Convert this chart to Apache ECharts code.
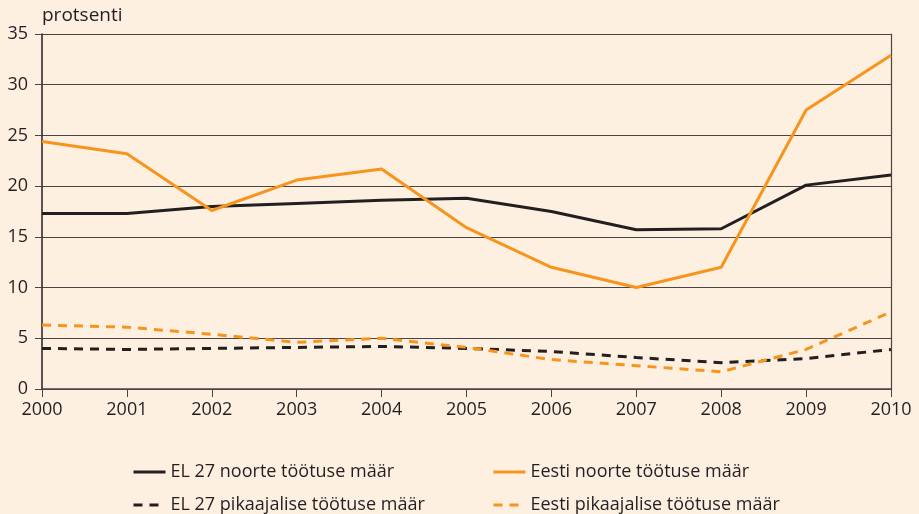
<!DOCTYPE html>
<html>
<head>
<meta charset="utf-8">
<script src="https://cdn.jsdelivr.net/npm/echarts@6/dist/echarts.min.js"></script>
<style>
html, body { margin: 0; padding: 0; background: #fdf0e1; }
#chart { width: 919px; height: 514px; }
</style>
</head>
<body>
<div id="chart"></div>
<script>
// aastad
var years = ['2000', '2001', '2002', '2003', '2004', '2005', '2006', '2007', '2008', '2009', '2010'];

// noorte töötuse määr
var elNoorte = [17.3, 17.3, 18.0, 18.3, 18.6, 18.8, 17.5, 15.7, 15.8, 20.1, 21.1];
var eestiNoorte = [24.4, 23.2, 17.6, 20.6, 21.7, 15.9, 12.0, 10.0, 12.0, 27.5, 32.9];

// pikaajalise töötuse määr
var elPika = [4.0, 3.9, 4.0, 4.1, 4.2, 4.0, 3.7, 3.1, 2.6, 3.0, 3.9];
var eestiPika = [6.3, 6.1, 5.4, 4.6, 5.0, 4.1, 2.9, 2.3, 1.7, 3.9, 7.6];

var names = [
  'EL 27 noorte töötuse määr',
  'Eesti noorte töötuse määr',
  'EL 27 pikaajalise töötuse määr',
  'Eesti pikaajalise töötuse määr'
];

var black = '#231f20';
var orange = '#f7941d';
var font = 'Open Sans';

function mkSeries(name, data, color, dashed) {
  return {
    name: name,
    type: 'line',
    data: data,
    symbol: 'none',
    color: color,
    lineStyle: { color: color, width: 3, type: dashed ? [9, 7] : 'solid' },
    animation: false
  };
}

// one legend per item, placed in two columns
var legPos = [[127, 458], [487, 458], [127, 491], [487, 491]];
var legends = names.map(function (n, i) {
  return {
    data: [n],
    left: legPos[i][0], top: legPos[i][1],
    itemWidth: 32, itemHeight: 10,
    itemStyle: { opacity: 0 },
    lineStyle: { width: 3 },
    textStyle: { fontSize: 18, color: black, fontFamily: font }
  };
});

var chart = echarts.init(document.getElementById('chart'));
chart.setOption({
  backgroundColor: '#fdf0e1',
  textStyle: { fontFamily: font },
  grid: { left: 42, right: 28, top: 34, bottom: 125 },
  legend: legends,
  xAxis: {
    type: 'category',
    data: years,
    boundaryGap: false,
    axisLine: { lineStyle: { color: '#4a4545', width: 1.5 } },
    axisTick: { length: 8, lineStyle: { color: '#4a4545' } },
    axisLabel: { color: black, fontSize: 18, margin: 12 }
  },
  yAxis: [
    {
      type: 'value',
      min: 0, max: 35, interval: 5,
      name: 'protsenti',
      nameLocation: 'end',
      nameGap: 9,
      nameTextStyle: { color: black, fontSize: 19, align: 'left' },
      axisLine: { show: true, lineStyle: { color: '#231f20', width: 1.5 } },
      axisTick: { show: true, length: 7, lineStyle: { color: '#4a4545' } },
      axisLabel: { color: black, fontSize: 18, margin: 14 },
      splitLine: { lineStyle: { color: '#4a4545', width: 1.2 } }
    },
    {
      type: 'value',
      min: 0, max: 35, interval: 5,
      position: 'right',
      axisLine: { show: true, lineStyle: { color: '#4a4545', width: 1.2 } },
      axisTick: { show: false },
      axisLabel: { show: false },
      splitLine: { show: false }
    }
  ],
  series: [
    mkSeries(names[0], elNoorte, black, false),
    mkSeries(names[1], eestiNoorte, orange, false),
    mkSeries(names[2], elPika, black, true),
    mkSeries(names[3], eestiPika, orange, true)
  ]
});
</script>
</body>
</html>
